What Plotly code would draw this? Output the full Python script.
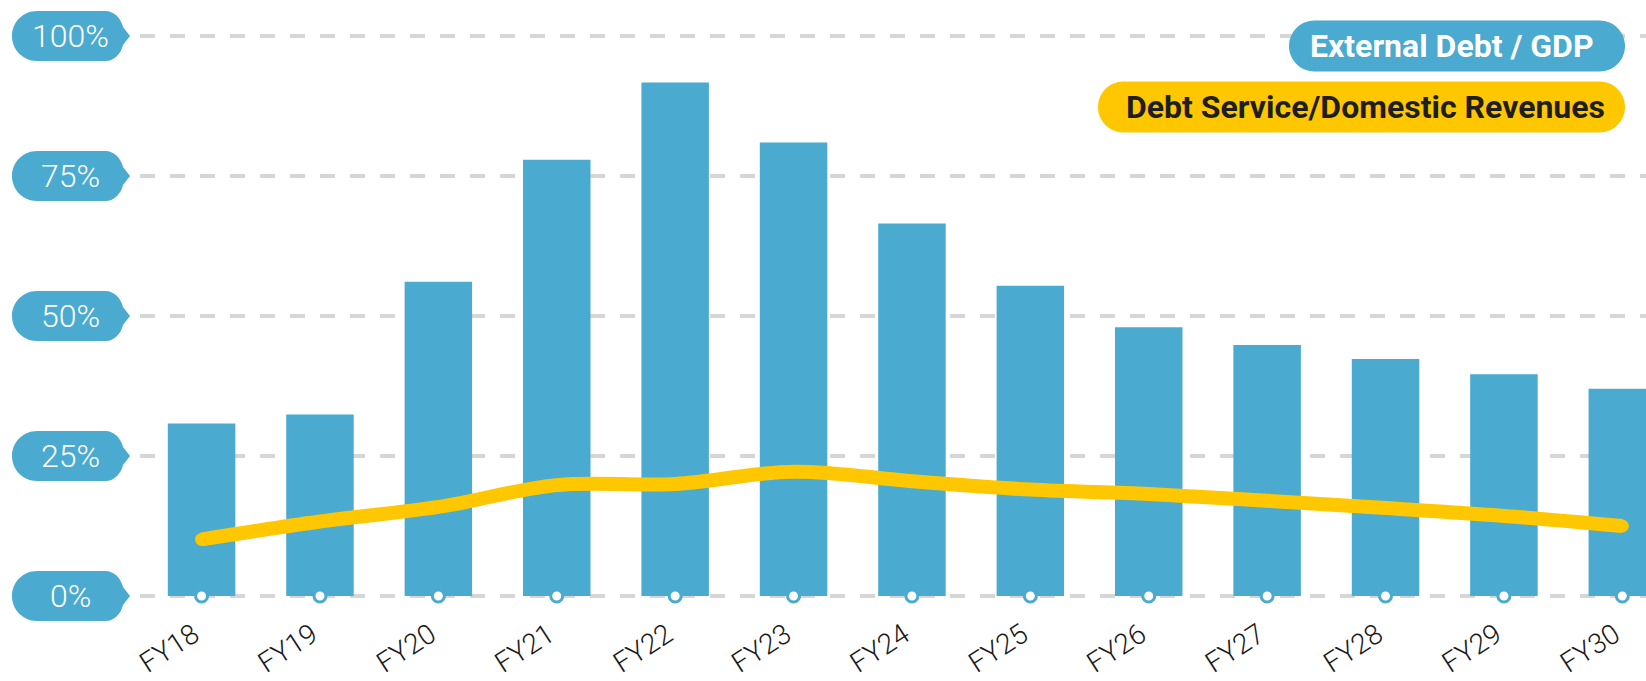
import plotly.graph_objects as go

# ---- data ----
categories = ["FY18", "FY19", "FY20", "FY21", "FY22", "FY23", "FY24",
              "FY25", "FY26", "FY27", "FY28", "FY29", "FY30"]
external_debt_gdp = [30.8, 32.4, 56.1, 77.9, 91.7, 81.0, 66.5,
                     55.4, 48.0, 44.8, 42.3, 39.6, 37.0]
debt_service_rev = [10.1, 13.3, 15.9, 19.8, 20.0, 22.2, 20.5,
                    19.0, 18.2, 17.0, 15.7, 14.3, 12.5]
y_tick_values = [0, 25, 50, 75, 100]
y_tick_labels = ["0%", "25%", "50%", "75%", "100%"]
series_names = ["External Debt / GDP", "Debt Service/Domestic Revenues"]

BLUE = "#4BAACF"
YELLOW = "#FFC700"
GRID = "#D6D6D6"

W, H = 1646, 681
L, R, T, B = 140, 0, 10, 75
Y_RANGE = [-1.79, 104.64]

fig = go.Figure()
fig.add_trace(go.Bar(x=categories, y=external_debt_gdp, name=series_names[0],
                     marker=dict(color=BLUE, line=dict(width=0)), width=0.57))
fig.add_trace(go.Scatter(x=categories, y=[0] * len(categories), mode="markers",
                         marker=dict(size=12, color="white", line=dict(color=BLUE, width=3)),
                         cliponaxis=False, showlegend=False, hoverinfo="skip"))
fig.add_trace(go.Scatter(x=categories, y=debt_service_rev, name=series_names[1],
                         mode="lines+markers",
                         line=dict(color=YELLOW, width=14, shape="spline", smoothing=1.0),
                         marker=dict(size=13, color=YELLOW)))

k = 0.5523


def label_bubble():
    r = 25
    lx = 12 - L
    cx = lx + r
    p = [f"M {cx},{r}",
         f"L {105 - L},{r}",
         f"C {115 - L},{r} {121 - L},{17} {123 - L},{9}",
         f"L {130 - L},0",
         f"L {123 - L},{-9}",
         f"C {121 - L},{-17} {115 - L},{-r} {105 - L},{-r}",
         f"L {cx},{-r}",
         f"C {cx - k * r},{-r} {lx},{-k * r} {lx},0",
         f"C {lx},{k * r} {cx - k * r},{r} {cx},{r} Z"]
    return " ".join(p)


def pill(x0, x1, cy, h):
    r = h / 2
    p = [f"M {x0 + r},{cy + r}", f"L {x1 - r},{cy + r}",
         f"C {x1 - r + k * r},{cy + r} {x1},{cy + k * r} {x1},{cy}",
         f"C {x1},{cy - k * r} {x1 - r + k * r},{cy - r} {x1 - r},{cy - r}",
         f"L {x0 + r},{cy - r}",
         f"C {x0 + r - k * r},{cy - r} {x0},{cy - k * r} {x0},{cy}",
         f"C {x0},{cy + k * r} {x0 + r - k * r},{cy + r} {x0 + r},{cy + r} Z"]
    return " ".join(p)


def to_paper_y(v):
    return (v - Y_RANGE[0]) / (Y_RANGE[1] - Y_RANGE[0])


shapes = []
annotations = []
for v, lab in zip(y_tick_values, y_tick_labels):
    py = to_paper_y(v)
    shapes.append(dict(type="path", xref="paper", yref="paper", xsizemode="pixel",
                       ysizemode="pixel", xanchor=0, yanchor=py, path=label_bubble(),
                       fillcolor=BLUE, line=dict(width=0), layer="above"))
    annotations.append(dict(xref="paper", yref="paper", x=0, y=py, xshift=-(L - 70),
                            text=lab, showarrow=False, xanchor="center", yanchor="middle",
                            font=dict(family="Roboto", size=32, color="white", weight=300)))

legend_specs = [
    (series_names[0], BLUE, "white", 1289, 1625, 46, 1596),
    (series_names[1], YELLOW, "#1E1E1E", 1098, 1625, 107, 1607),
]
for name, fill, tcol, x0, x1, cy, tx in legend_specs:
    shapes.append(dict(type="path", xref="paper", yref="paper", xsizemode="pixel",
                       ysizemode="pixel", xanchor=1, yanchor=1,
                       path=pill(x0 - (W - R), x1 - (W - R), -(cy - T), 51),
                       fillcolor=fill, line=dict(width=0), layer="above"))
    annotations.append(dict(xref="paper", yref="paper", x=1, y=1,
                            xshift=tx - (W - R), yshift=-(cy - T),
                            text=f"<b>{name}</b>", showarrow=False,
                            xanchor="right", yanchor="middle",
                            font=dict(family="Roboto", size=32, color=tcol)))

fig.update_layout(
    width=W, height=H,
    margin=dict(l=L, r=R, t=T, b=B, pad=0, autoexpand=False),
    paper_bgcolor="white", plot_bgcolor="white",
    showlegend=False,
    shapes=shapes, annotations=annotations,
    xaxis=dict(range=[-0.52, 12.2], showgrid=False, zeroline=False, showline=False,
               ticks="", tickangle=-33, ticklabelstandoff=6, ticklabelshift=-8,
               automargin=False,
               tickfont=dict(family="Roboto", size=28, color="#1A1A1A", weight=300)),
    yaxis=dict(range=Y_RANGE, tickvals=y_tick_values, showticklabels=False,
               showgrid=True, gridcolor=GRID, gridwidth=4, griddash="15px,15px",
               zeroline=False, showline=False, ticks="", automargin=False),
)

fig.write_html("out.html")
